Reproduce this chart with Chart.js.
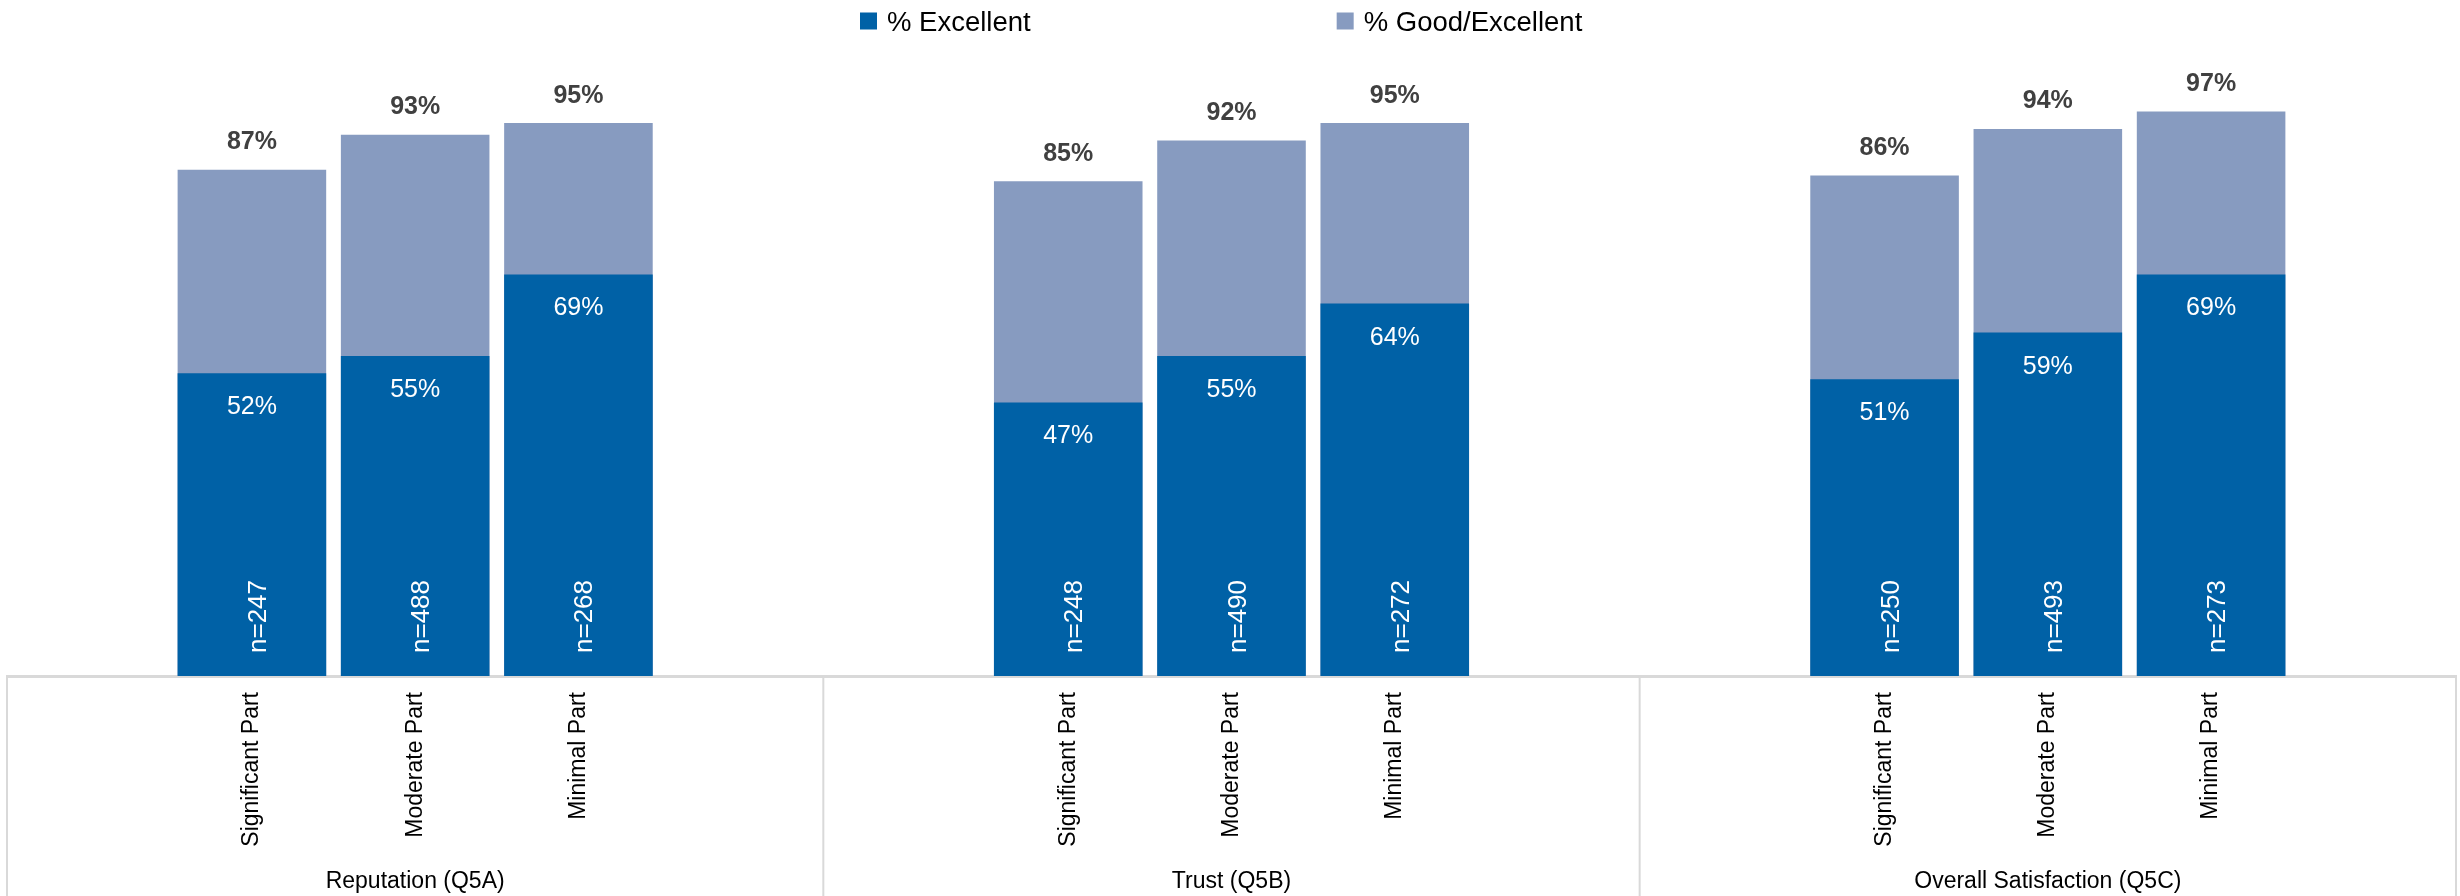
<!DOCTYPE html>
<html>
<head>
<meta charset="utf-8">
<script src="https://cdn.jsdelivr.net/npm/chart.js@4/dist/chart.umd.min.js"></script>
<style>
  html, body { margin: 0; padding: 0; background: #ffffff; }
  canvas { display: block; }
</style>
</head>
<body>
<canvas id="chart" width="2460" height="896"></canvas>
<script>
// Question groups and the three involvement levels shown under each one
const groups = ['Reputation (Q5A)', 'Trust (Q5B)', 'Overall Satisfaction (Q5C)'];
const segments = ['Significant Part', 'Moderate Part', 'Minimal Part'];
const seriesNames = ['% Excellent', '% Good/Excellent'];

// Values in group order: Reputation x3, Trust x3, Overall Satisfaction x3
const excellent     = [52, 55, 69, 47, 55, 64, 51, 59, 69];
const goodExcellent = [87, 93, 95, 85, 92, 95, 86, 94, 97];
const sampleSizes   = [247, 488, 268, 248, 490, 272, 250, 493, 273];

const COLOR_EXCELLENT = '#0061A6';
const COLOR_GOOD = '#879BC0';
const FONT = "'Liberation Sans', Arial, sans-serif";

// Each group occupies five slots on the category axis: an empty slot on each side of its three bars
const SLOTS_PER_GROUP = segments.length + 2;
const slotLabels = [], excSlots = [], goodSlots = [], nSlots = [];
groups.forEach((g, gi) => {
  slotLabels.push(''); excSlots.push(null); goodSlots.push(null); nSlots.push(null);
  segments.forEach((s, si) => {
    const k = gi * segments.length + si;
    slotLabels.push(s);
    excSlots.push(excellent[k]);
    goodSlots.push(goodExcellent[k]);
    nSlots.push(sampleSizes[k]);
  });
  slotLabels.push(''); excSlots.push(null); goodSlots.push(null); nSlots.push(null);
});

// Percent labels above the back bars, inside the front bars, and the rotated sample sizes
const valueLabels = {
  id: 'valueLabels',
  afterDatasetsDraw(chart) {
    const ctx = chart.ctx;
    const metaExc = chart.getDatasetMeta(0);
    const metaGood = chart.getDatasetMeta(1);
    const yBase = chart.scales.y.getPixelForValue(0);
    ctx.save();
    ctx.textAlign = 'center';
    ctx.textBaseline = 'alphabetic';

    ctx.font = 'bold 25px ' + FONT;
    ctx.fillStyle = '#404040';
    metaGood.data.forEach((bar, i) => {
      if (goodSlots[i] == null) return;
      ctx.fillText(goodSlots[i] + '%', bar.x, bar.y - 20.5);
    });

    ctx.font = '25px ' + FONT;
    ctx.fillStyle = '#ffffff';
    metaExc.data.forEach((bar, i) => {
      if (excSlots[i] == null) return;
      ctx.fillText(excSlots[i] + '%', bar.x, bar.y + 41);
    });

    ctx.font = '26px ' + FONT;
    metaExc.data.forEach((bar, i) => {
      if (nSlots[i] == null) return;
      ctx.save();
      ctx.translate(bar.x + 14, yBase - 23);
      ctx.rotate(-Math.PI / 2);
      ctx.textAlign = 'left';
      ctx.fillText('n=' + nSlots[i], 0, 0);
      ctx.restore();
    });
    ctx.restore();
  }
};

// Frame under the axis: dividers between question groups and the group names
const groupFrame = {
  id: 'groupFrame',
  afterDraw(chart) {
    const ctx = chart.ctx;
    const x = chart.scales.x;
    const bounds = [x.left];
    for (let gi = 1; gi < groups.length; gi++) {
      const a = x.getPixelForValue(gi * SLOTS_PER_GROUP - 1);
      const b = x.getPixelForValue(gi * SLOTS_PER_GROUP);
      bounds.push((a + b) / 2);
    }
    bounds.push(x.right);
    ctx.save();
    ctx.strokeStyle = '#d9d9d9';
    ctx.lineWidth = 2;
    bounds.forEach(px => {
      ctx.beginPath();
      ctx.moveTo(px, x.top);
      ctx.lineTo(px, chart.height);
      ctx.stroke();
    });
    ctx.font = '23px ' + FONT;
    ctx.fillStyle = '#000000';
    ctx.textAlign = 'center';
    ctx.textBaseline = 'alphabetic';
    groups.forEach((g, gi) => {
      ctx.fillText(g, (bounds[gi] + bounds[gi + 1]) / 2, 888);
    });
    ctx.restore();
  }
};

// Legend row across the top
const topLegend = {
  id: 'topLegend',
  afterDraw(chart) {
    const ctx = chart.ctx;
    ctx.save();
    ctx.font = '27.5px ' + FONT;
    ctx.textBaseline = 'alphabetic';
    ctx.textAlign = 'left';
    let cx = 860;
    chart.data.datasets.forEach(ds => {
      ctx.fillStyle = ds.backgroundColor;
      ctx.fillRect(cx, 12.5, 17, 17);
      ctx.fillStyle = '#000000';
      ctx.fillText(ds.label, cx + 27, 30.5);
      cx += 27 + ctx.measureText(ds.label).width + 306;
    });
    ctx.restore();
  }
};

new Chart(document.getElementById('chart'), {
  type: 'bar',
  data: {
    labels: slotLabels,
    datasets: [
      {
        label: seriesNames[0],
        data: excSlots,
        backgroundColor: COLOR_EXCELLENT,
        grouped: false,
        order: 0,
        barPercentage: 0.91,
        categoryPercentage: 1
      },
      {
        label: seriesNames[1],
        data: goodSlots,
        backgroundColor: COLOR_GOOD,
        grouped: false,
        order: 1,
        barPercentage: 0.91,
        categoryPercentage: 1
      }
    ]
  },
  options: {
    responsive: false,
    animation: false,
    devicePixelRatio: 1,
    layout: { padding: { top: 94, left: 7, right: 4, bottom: 0 } },
    plugins: {
      legend: { display: false },
      tooltip: { enabled: false }
    },
    scales: {
      x: {
        type: 'category',
        offset: true,
        z: 1,
        grid: { display: false, drawTicks: false },
        border: { display: true, color: '#d9d9d9', width: 3 },
        ticks: {
          autoSkip: false,
          minRotation: 90,
          maxRotation: 90,
          padding: 16,
          color: '#000000',
          font: { family: FONT, size: 23 }
        },
        afterFit(scale) { scale.height = 220; }
      },
      y: { display: false, min: 0, max: 100 }
    }
  },
  plugins: [valueLabels, groupFrame, topLegend]
});
</script>
</body>
</html>
